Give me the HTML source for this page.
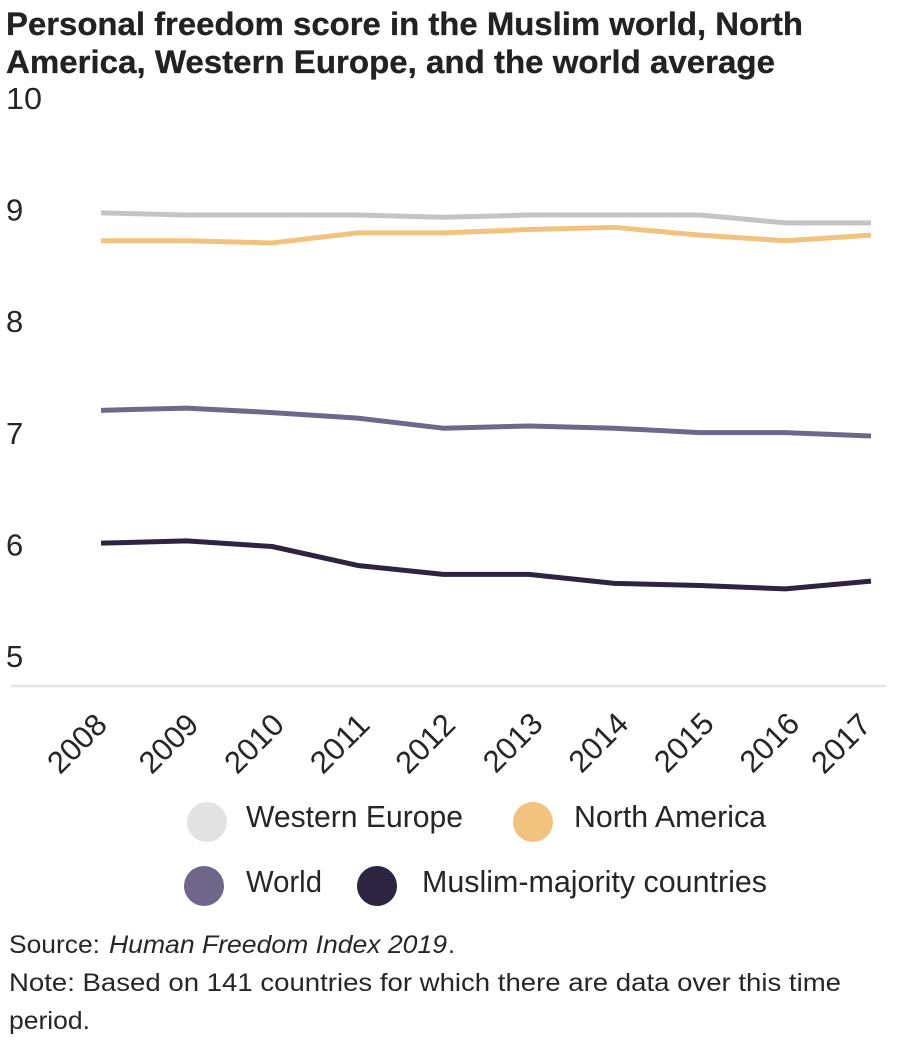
<!DOCTYPE html>
<html lang="en">
<head>
<meta charset="utf-8">
<title>Personal freedom score</title>
<style>
  html, body { margin: 0; padding: 0; background: #fff; }
  svg { display: block; }
  text { font-family: "Liberation Sans", Arial, sans-serif; fill: #262626; }
  .title { font-size: 32px; font-weight: 700; fill: #222; stroke: #222; stroke-width: 0.3px; }
  .axis { font-size: 31px; }
  .legend { font-size: 31px; }
  .note { font-size: 25px; }
</style>
</head>
<body>
<svg id="chart" xmlns="http://www.w3.org/2000/svg" width="898" height="1060" viewBox="0 0 898 1060">
  <rect x="0" y="0" width="898" height="1060" fill="#ffffff"></rect>
  <text class="title" x="6" y="35" textLength="797" lengthAdjust="spacingAndGlyphs">Personal freedom score in the Muslim world, North</text>
  <text class="title" x="6" y="73" textLength="769" lengthAdjust="spacingAndGlyphs">America, Western Europe, and the world average</text>

  <g id="y-axis"></g>
  <g id="x-axis"></g>
  <g id="series"></g>

  <g>
    <g>
      <circle cx="207" cy="822" r="20" fill="#e2e2e2"></circle>
      <text class="legend" x="246" y="827" textLength="217" lengthAdjust="spacingAndGlyphs">Western Europe</text>
    </g>
    <g>
      <circle cx="533" cy="822" r="20" fill="#f2c27f"></circle>
      <text class="legend" x="574" y="827" textLength="192" lengthAdjust="spacingAndGlyphs">North America</text>
    </g>
    <g>
      <circle cx="204" cy="886" r="20" fill="#6f6789"></circle>
      <text class="legend" x="246" y="892" textLength="76" lengthAdjust="spacingAndGlyphs">World</text>
    </g>
    <g>
      <circle cx="377" cy="886" r="20" fill="#2c2440"></circle>
      <text class="legend" x="422" y="892" textLength="345" lengthAdjust="spacingAndGlyphs">Muslim-majority countries</text>
    </g>
  </g>

  <g>
    <text class="note" x="9" y="953" textLength="91" lengthAdjust="spacingAndGlyphs">Source:</text>
    <text class="note" x="109" y="953" font-style="italic" textLength="338" lengthAdjust="spacingAndGlyphs">Human Freedom Index 2019</text>
    <text class="note" x="448" y="953">.</text>
    <text class="note" x="9" y="991" textLength="832" lengthAdjust="spacingAndGlyphs">Note: Based on 141 countries for which there are data over this time</text>
    <text class="note" x="9" y="1029" textLength="81" lengthAdjust="spacingAndGlyphs">period.</text>
  </g>
</svg>

<script>
const years = ['2008', '2009', '2010', '2011', '2012', '2013', '2014', '2015', '2016', '2017'];
const yTicks = [5, 6, 7, 8, 9, 10];
const westernEurope = [9.24, 9.22, 9.22, 9.22, 9.20, 9.22, 9.22, 9.22, 9.15, 9.15];
const northAmerica = [8.99, 8.99, 8.97, 9.06, 9.06, 9.09, 9.11, 9.04, 8.99, 9.04];
const world = [7.47, 7.49, 7.45, 7.40, 7.31, 7.33, 7.31, 7.27, 7.27, 7.24];
const muslimMajority = [6.28, 6.30, 6.25, 6.08, 6.00, 6.00, 5.92, 5.90, 5.87, 5.94];

const NS = 'http://www.w3.org/2000/svg';
const xLeft = 101, xRight = 871, yBase = 686, unit = 111.6;
function xScale(i) { return xLeft + i * (xRight - xLeft) / (years.length - 1); }
function yScale(v) { return yBase - (v - 5) * unit; }

const yAxis = document.getElementById('y-axis');
const xAxis = document.getElementById('x-axis');
const seriesGroup = document.getElementById('series');

yTicks.forEach(function (t) {
  const label = document.createElementNS(NS, 'text');
  label.setAttribute('class', 'axis');
  label.setAttribute('x', 6);
  label.setAttribute('y', yScale(t) - 19);
  if (t === 10) {
    label.setAttribute('textLength', 36);
    label.setAttribute('lengthAdjust', 'spacingAndGlyphs');
  }
  
  
  label.textContent = String(t);
  yAxis.appendChild(label);
});

const baseline = document.createElementNS(NS, 'line');
baseline.setAttribute('x1', 11);
baseline.setAttribute('x2', 886);
baseline.setAttribute('y1', yBase);
baseline.setAttribute('y2', yBase);
baseline.setAttribute('stroke', '#e4e4e4');
baseline.setAttribute('stroke-width', 2.4);


xAxis.appendChild(baseline);

years.forEach(function (year, i) {
  const last = years.length - 1;
  let shift = i < 5 ? -18 : -16;
  if (i === 0) { shift = -24; }
  if (i === last) { shift = -30; }
  const cx = xScale(i) + shift;
  const cy = (i >= 5 && i < last) ? 753 : 754;
  const tick = document.createElementNS(NS, 'text');
  tick.setAttribute('class', 'axis');
  tick.setAttribute('x', cx);
  tick.setAttribute('y', cy);
  tick.setAttribute('text-anchor', 'middle');
  tick.setAttribute('textLength', 69);
  tick.setAttribute('lengthAdjust', 'spacingAndGlyphs');
  tick.setAttribute('transform', 'rotate(-45 ' + cx + ' ' + (cy - 10.5) + ')');
  
  
  tick.textContent = year;
  xAxis.appendChild(tick);
});

function drawLine(values, color, name) {
  const path = document.createElementNS(NS, 'polyline');
  path.setAttribute('points', values.map(function (v, i) {
    return xScale(i).toFixed(2) + ',' + yScale(v).toFixed(2);
  }).join(' '));
  path.setAttribute('fill', 'none');
  path.setAttribute('stroke', color);
  path.setAttribute('stroke-width', 5);
  path.setAttribute('stroke-linejoin', 'round');
  
  
  seriesGroup.appendChild(path);
}

drawLine(westernEurope, '#c4c4c4', 'line-western-europe');
drawLine(northAmerica, '#f2c27f', 'line-north-america');
drawLine(world, '#70688a', 'line-world');
drawLine(muslimMajority, '#2c2440', 'line-muslim-majority');
</script>
</body>
</html>
